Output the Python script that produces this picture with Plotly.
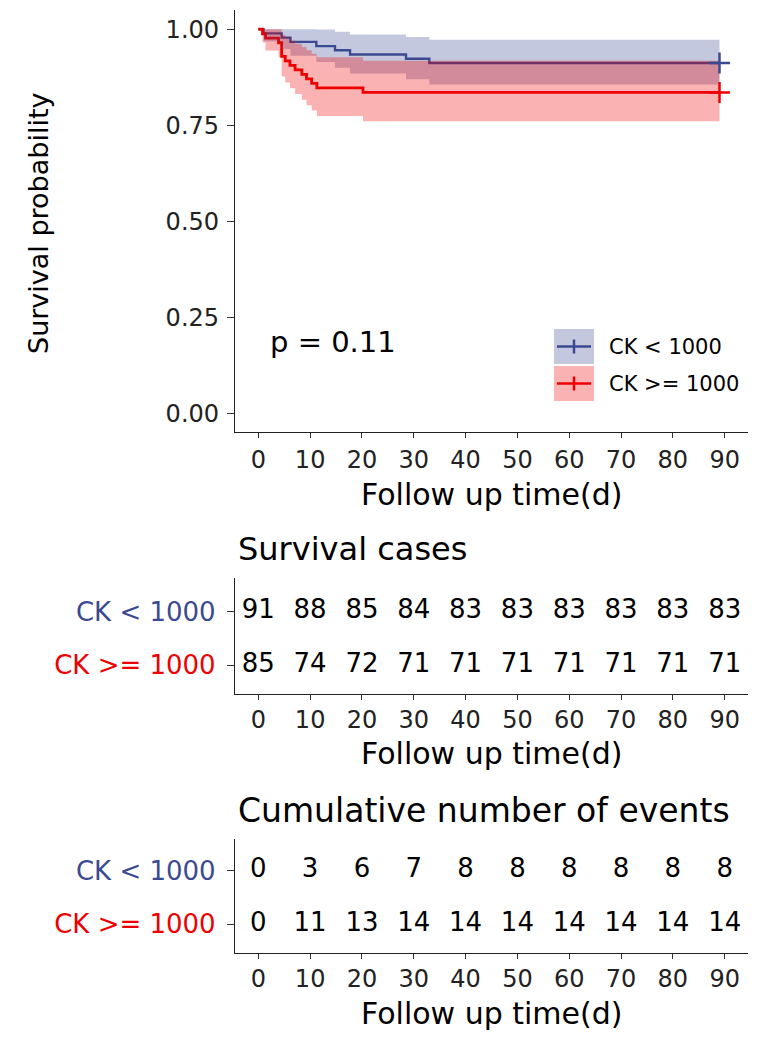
import plotly.graph_objects as go

# ---------------- data ----------------
groups = ["CK < 1000", "CK >= 1000"]

blue_time = [0, 1.0, 4.5, 6.2, 11.2, 14.8, 17.7, 28.5, 33.0, 89.0]
blue_surv = [1.0, 0.9890, 0.9780, 0.9670, 0.9560, 0.9451, 0.9341, 0.9231, 0.9121, 0.9121]
blue_upper = [1.0, 1.0, 1.0, 1.0, 0.9991, 0.9931, 0.9865, 0.9795, 0.9722, 0.9722]
blue_lower = [1.0, 0.9678, 0.9484, 0.9310, 0.9148, 0.8994, 0.8845, 0.8699, 0.8557, 0.8557]

red_time = [0, 0.8, 1.4, 3.9, 4.5, 5.2, 6.1, 7.1, 8.4, 9.3, 10.3, 11.3, 20.2, 89.0]
red_surv = [1.0, 0.9882, 0.9765, 0.9647, 0.9294, 0.9176, 0.9059, 0.8941, 0.8824,
            0.8706, 0.8588, 0.8471, 0.8353, 0.8353]
red_upper = [1.0, 1.0, 1.0, 1.0, 0.9855, 0.9780, 0.9701, 0.9620, 0.9536,
             0.9450, 0.9361, 0.9271, 0.9180, 0.9180]
red_lower = [1.0, 0.9656, 0.9448, 0.9263, 0.8765, 0.8610, 0.8459, 0.8310, 0.8165,
             0.8021, 0.7879, 0.7739, 0.7601, 0.7601]

censor_time = [89.0, 89.0]
censor_surv = [0.9121, 0.8353]

time_ticks = [0, 10, 20, 30, 40, 50, 60, 70, 80, 90]
at_risk_low = [91, 88, 85, 84, 83, 83, 83, 83, 83, 83]
at_risk_high = [85, 74, 72, 71, 71, 71, 71, 71, 71, 71]
cum_events_low = [0, 3, 6, 7, 8, 8, 8, 8, 8, 8]
cum_events_high = [0, 11, 13, 14, 14, 14, 14, 14, 14, 14]

y_ticks = [0, 0.25, 0.5, 0.75, 1.0]
y_tick_labels = ["0.00", "0.25", "0.50", "0.75", "1.00"]

p_text = "p = 0.11"

# ---------------- style ----------------
BLUE = "#3B4992"
RED = "#EE0000"
BLUE_FILL = "rgba(59,73,146,0.3)"
RED_FILL = "rgba(238,0,0,0.3)"
FONT = "DejaVu Sans"
W, H = 765, 1039


def px(x):
    return x / W


def py(y):
    return 1 - y / H


fig = go.Figure()

# survival step lines (drawn first so that ribbons tint them like the original)
fig.add_trace(go.Scatter(x=blue_time, y=blue_surv, mode="lines", line=dict(color=BLUE, width=2.4, shape="hv"),
                         showlegend=False, hoverinfo="skip"))
fig.add_trace(go.Scatter(x=red_time, y=red_surv, mode="lines", line=dict(color=RED, width=2.8, shape="hv"),
                         showlegend=False, hoverinfo="skip"))
# confidence ribbons
fig.add_trace(go.Scatter(x=blue_time, y=blue_lower, mode="lines", line=dict(width=0, shape="hv"),
                         showlegend=False, hoverinfo="skip"))
fig.add_trace(go.Scatter(x=blue_time, y=blue_upper, mode="lines", line=dict(width=0, shape="hv"),
                         fill="tonexty", fillcolor=BLUE_FILL, showlegend=False, hoverinfo="skip"))
fig.add_trace(go.Scatter(x=red_time, y=red_lower, mode="lines", line=dict(width=0, shape="hv"),
                         showlegend=False, hoverinfo="skip"))
fig.add_trace(go.Scatter(x=red_time, y=red_upper, mode="lines", line=dict(width=0, shape="hv"),
                         fill="tonexty", fillcolor=RED_FILL, showlegend=False, hoverinfo="skip"))
# censor marks
fig.add_trace(go.Scatter(x=censor_time, y=censor_surv, mode="markers",
                         marker=dict(symbol="cross-thin", size=15, line=dict(width=2.5, color=[BLUE, RED])),
                         showlegend=False, hoverinfo="skip"))

# risk table
fig.add_trace(go.Scatter(x=time_ticks, y=[2] * len(time_ticks), text=[str(v) for v in at_risk_low],
                         mode="text", textfont=dict(family=FONT, size=26, color="black"),
                         xaxis="x2", yaxis="y2", showlegend=False, hoverinfo="skip"))
fig.add_trace(go.Scatter(x=time_ticks, y=[1] * len(time_ticks), text=[str(v) for v in at_risk_high],
                         mode="text", textfont=dict(family=FONT, size=26, color="black"),
                         xaxis="x2", yaxis="y2", showlegend=False, hoverinfo="skip"))
# cumulative events table
fig.add_trace(go.Scatter(x=time_ticks, y=[2] * len(time_ticks), text=[str(v) for v in cum_events_low],
                         mode="text", textfont=dict(family=FONT, size=26, color="black"),
                         xaxis="x3", yaxis="y3", showlegend=False, hoverinfo="skip"))
fig.add_trace(go.Scatter(x=time_ticks, y=[1] * len(time_ticks), text=[str(v) for v in cum_events_high],
                         mode="text", textfont=dict(family=FONT, size=26, color="black"),
                         xaxis="x3", yaxis="y3", showlegend=False, hoverinfo="skip"))

x_dom = [px(235), px(748)]
common_x = dict(domain=x_dom, range=[-4.5, 94.5], tickvals=time_ticks, ticks="outside", ticklen=5,
                tickcolor="#333333", tickwidth=1.2, showline=True, linecolor="#222222", linewidth=1.3,
                showgrid=False, zeroline=False, tickfont=dict(family=FONT, size=24, color="#222222"),
                fixedrange=True)
common_y = dict(ticks="outside", ticklen=7, tickcolor="#333333", tickwidth=1.2, showline=True,
                linecolor="#222222", linewidth=1.3, showgrid=False, zeroline=False, fixedrange=True)

row_labels = [f"<span style='color:{RED}'>CK &gt;= 1000</span>",
              f"<span style='color:{BLUE}'>CK &lt; 1000</span>"]

fig.update_layout(
    width=W, height=H, autosize=False,
    margin=dict(l=0, r=0, t=0, b=0),
    paper_bgcolor="white", plot_bgcolor="white",
    font=dict(family=FONT, color="#222222"),
    xaxis=dict(**common_x, anchor="y", ticklabelstandoff=1),
    yaxis=dict(**common_y, domain=[py(432.3), py(10)], range=[-0.05, 1.05], tickvals=y_ticks,
               ticktext=y_tick_labels, anchor="x", tickfont=dict(family=FONT, size=24, color="#222222"),
               ticklabelstandoff=3),
    xaxis2=dict(**common_x, anchor="y2", ticklabelstandoff=-1),
    yaxis2=dict(**common_y, domain=[py(694), py(578)], range=[0.456, 2.632], tickvals=[1, 2],
                ticktext=row_labels, anchor="x2", tickfont=dict(family=FONT, size=26),
                ticklabelstandoff=6),
    xaxis3=dict(**common_x, anchor="y3", ticklabelstandoff=-1),
    yaxis3=dict(**common_y, domain=[py(953.3), py(839.3)], range=[0.459, 2.586], tickvals=[1, 2],
                ticktext=row_labels, anchor="x3", tickfont=dict(family=FONT, size=26),
                ticklabelstandoff=6),
    showlegend=False,
)

annotations = [
    dict(text="Survival probability", x=px(38), y=py(223), textangle=-90, font=dict(size=27, color="black")),
    dict(text="Follow up time(d)", x=px(491.5), y=py(494), font=dict(size=30, color="black")),
    dict(text="Follow up time(d)", x=px(491.5), y=py(753), font=dict(size=30, color="black")),
    dict(text="Follow up time(d)", x=px(491.5), y=py(1013), font=dict(size=30, color="black")),
    dict(text="Survival cases", x=px(236), y=py(549), xanchor="left", font=dict(size=32, color="black")),
    dict(text="Cumulative number of events", x=px(236), y=py(810), xanchor="left",
         font=dict(size=33, color="black")),
    dict(text=p_text, x=px(268), y=py(342), xanchor="left", font=dict(size=29, color="black")),
    dict(text=groups[0], x=px(607), y=py(347), xanchor="left", font=dict(size=21, color="black")),
    dict(text=groups[1], x=px(607), y=py(384), xanchor="left", font=dict(size=21, color="black")),
]
for a in annotations:
    a.update(xref="paper", yref="paper", showarrow=False)
    if "xanchor" not in a:
        a["xanchor"] = "center"
    a["yanchor"] = "middle"
fig.update_layout(annotations=annotations)

# manual legend keys
shapes = []
for (y0, y1, col, fill) in [(329, 364, BLUE, BLUE_FILL), (366, 401, RED, RED_FILL)]:
    yc = (y0 + y1) / 2
    shapes.append(dict(type="rect", xref="paper", yref="paper", x0=px(554), x1=px(594), y0=py(y1), y1=py(y0),
                       fillcolor=fill, line=dict(width=0)))
    shapes.append(dict(type="line", xref="paper", yref="paper", x0=px(557), x1=px(591), y0=py(yc), y1=py(yc),
                       line=dict(color=col, width=2.5)))
    shapes.append(dict(type="line", xref="paper", yref="paper", x0=px(574), x1=px(574), y0=py(yc - 7),
                       y1=py(yc + 7), line=dict(color=col, width=2.5)))
fig.update_layout(shapes=shapes)

fig.write_html("out.html", config={"displayModeBar": False},
               post_script="document.body.style.margin='0';")
